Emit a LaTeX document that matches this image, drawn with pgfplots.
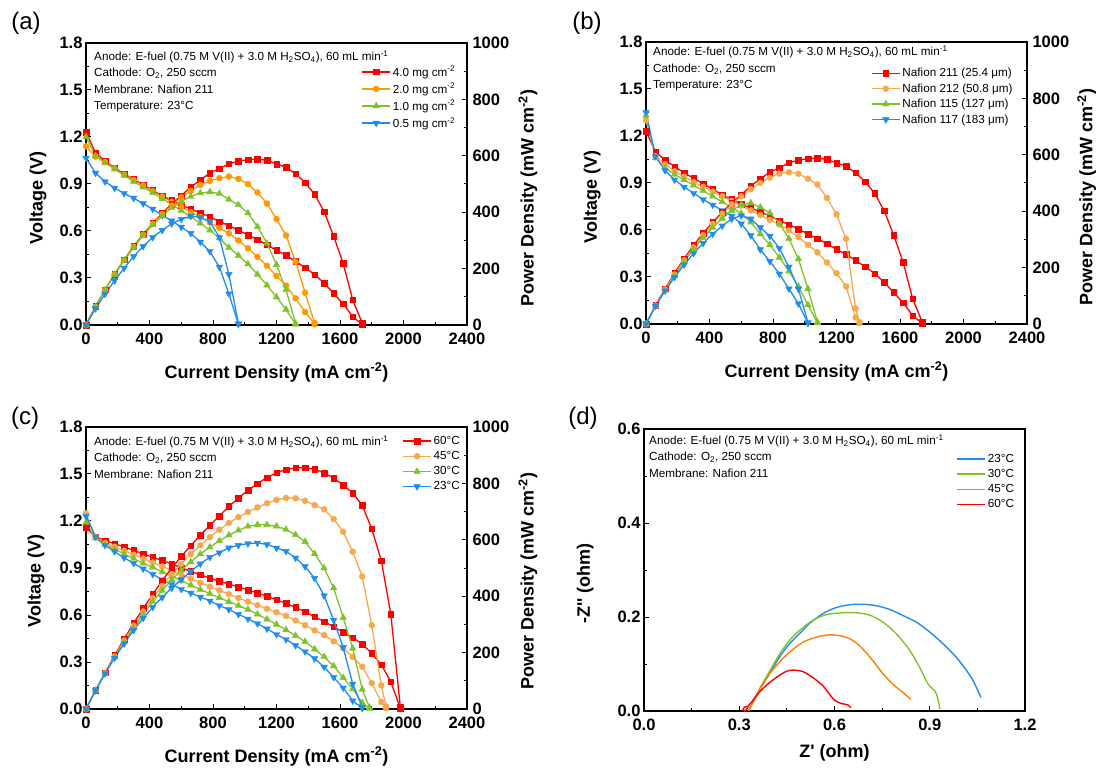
\documentclass[border=0pt]{standalone}
\usepackage{fontspec}
\setmainfont{Liberation Sans}
\newfontfamily\plainfont{Liberation Sans}
\usepackage{pgfplots}
\usepackage{pgfplotstable}
\pgfplotsset{compat=1.18}

\definecolor{cred}{RGB}{255,0,0}
\definecolor{corgA}{RGB}{255,153,0}
\definecolor{corgB}{RGB}{248,168,76}
\definecolor{cgrn}{RGB}{126,196,40}
\definecolor{cblu}{RGB}{30,140,240}
\definecolor{corgD}{RGB}{255,128,0}

\newcommand{\anode}{Anode: E-fuel (0.75 M V(II) + 3.0 M H\textsubscript{2}SO\textsubscript{4}), 60 mL min\textsuperscript{-1}}
\newcommand{\cathode}{Cathode: O\textsubscript{2}, 250 sccm}

% 23 C, Nafion 211, 4.0 mg cm-2 (same run in a, b and c)
\pgfplotstableread{
I V P
0 1.23 0
60 1.10 66.0
120 1.045 125.4
180 1.005 180.9
240 0.965 231.6
300 0.93 279.0
360 0.895 322.2
420 0.86 361.2
480 0.825 396.0
540 0.795 429.3
600 0.765 459.0
660 0.74 488.4
720 0.715 514.8
780 0.69 538.2
840 0.66 554.4
900 0.635 571.5
960 0.605 580.8
1020 0.575 586.5
1080 0.545 588.6
1140 0.512 583.7
1200 0.476 571.2
1260 0.444 559.4
1320 0.406 535.9
1380 0.366 505.1
1440 0.322 463.7
1500 0.268 402.0
1560 0.202 315.1
1620 0.135 218.7
1680 0.053 89.0
1740 0.004 7.0
}\base

\pgfplotstableread{
I V P
0 1.14 0
60 1.075 64.5
120 1.04 124.8
180 1.0 180.0
240 0.96 230.4
300 0.925 277.5
360 0.89 320.4
420 0.855 359.1
480 0.82 393.6
540 0.785 423.9
600 0.755 453.0
660 0.72 475.2
720 0.69 496.8
780 0.655 510.9
840 0.62 520.8
900 0.585 526.5
960 0.54 518.4
1020 0.49 499.8
1080 0.435 469.8
1140 0.378 430.9
1200 0.313 375.6
1260 0.252 317.5
1320 0.17 224.4
1380 0.083 114.5
1440 0.005 7.2
}\aOrg

\pgfplotstableread{
I V P
0 1.20 0
60 1.08 64.8
120 1.035 124.2
180 0.995 179.1
240 0.955 229.2
300 0.915 274.5
360 0.88 316.8
420 0.845 354.9
480 0.805 386.4
540 0.77 415.8
600 0.73 438.0
660 0.69 455.4
720 0.65 468.0
780 0.605 471.9
840 0.555 466.2
900 0.495 445.5
960 0.444 426.2
1020 0.389 396.8
1080 0.323 348.8
1140 0.254 289.6
1200 0.178 213.6
1260 0.099 124.7
1320 0.004 5.3
}\aGrn

\pgfplotstableread{
I V P
0 1.065 0
60 0.97 58.2
120 0.915 109.8
180 0.875 157.5
240 0.84 201.6
300 0.81 243.0
360 0.775 279.0
420 0.74 310.8
480 0.70 336.0
540 0.665 359.1
600 0.625 375.0
660 0.585 386.1
720 0.53 381.6
780 0.47 366.6
840 0.37 310.8
900 0.20 180.0
960 0.005 4.8
}\aBlu

\pgfplotstableread{
I V P
0 1.30 0
60 1.07 64.2
120 1.02 122.4
180 0.975 175.5
240 0.94 225.6
300 0.905 271.5
360 0.875 315.0
420 0.845 354.9
480 0.815 391.2
540 0.785 423.9
600 0.755 453.0
660 0.725 478.5
720 0.695 500.4
780 0.665 518.7
840 0.635 533.4
900 0.598 538.2
960 0.555 532.8
1020 0.505 515.1
1080 0.458 494.6
1140 0.392 446.9
1200 0.324 388.8
1260 0.24 302.4
1320 0.042 55.4
1345 0.005 6.7
}\bOrg

\pgfplotstableread{
I V P
0 1.33 0
60 1.06 63.6
120 0.995 119.4
180 0.955 171.9
240 0.92 220.8
300 0.885 265.5
360 0.85 306.0
420 0.815 342.3
480 0.78 374.4
540 0.745 402.3
600 0.705 423.0
660 0.65 429.0
720 0.575 414.0
780 0.505 393.9
840 0.425 357.0
900 0.337 303.3
960 0.24 230.4
1020 0.122 124.4
1080 0.006 6.5
}\bGrn

\pgfplotstableread{
I V P
0 1.35 0
60 1.07 64.2
120 0.98 117.6
180 0.92 165.6
240 0.875 210.0
300 0.835 250.5
360 0.795 286.2
420 0.76 319.2
480 0.725 348.0
540 0.69 372.6
600 0.64 384.0
660 0.565 372.9
720 0.475 342.0
780 0.40 312.0
840 0.32 268.8
900 0.225 202.5
960 0.13 124.8
1020 0.005 5.1
}\bBlu

\pgfplotstableread{
I V P
0 1.16 0
60 1.10 66.0
120 1.075 129.0
180 1.055 189.9
240 1.035 248.4
300 1.013 303.9
360 0.99 356.4
420 0.968 406.6
480 0.948 455.0
540 0.926 500.0
600 0.902 541.2
660 0.878 579.5
720 0.856 616.3
780 0.835 651.3
840 0.815 684.6
900 0.798 718.2
960 0.779 747.8
1020 0.76 775.2
1080 0.74 799.2
1140 0.72 820.8
1200 0.698 837.6
1260 0.674 849.2
1320 0.648 855.4
1380 0.62 855.6
1440 0.59 849.6
1500 0.558 837.0
1560 0.525 819.0
1620 0.49 793.8
1680 0.456 766.1
1740 0.415 722.1
1800 0.355 639.0
1860 0.283 526.4
1920 0.175 336.0
1980 0.004 7.9
}\cRed

\pgfplotstableread{
I V P
0 1.25 0
60 1.10 66.0
120 1.06 127.2
180 1.035 186.3
240 1.01 242.4
300 0.985 295.5
360 0.96 345.6
420 0.935 392.7
480 0.91 436.8
540 0.885 477.9
600 0.858 514.8
660 0.832 549.1
720 0.806 580.3
780 0.781 609.2
840 0.757 635.9
900 0.733 659.7
960 0.709 680.6
1020 0.685 698.7
1080 0.662 715.0
1140 0.64 729.6
1200 0.618 741.6
1260 0.594 748.4
1320 0.566 747.1
1380 0.535 738.3
1440 0.502 722.9
1500 0.472 708.0
1560 0.432 673.9
1620 0.388 628.6
1680 0.332 557.8
1740 0.27 469.8
1800 0.165 297.0
1860 0.045 83.7
1890 0.005 9.5
}\cOrg

\pgfplotstableread{
I V P
0 1.19 0
60 1.09 65.4
120 1.05 126.0
180 1.02 183.6
240 0.99 237.6
300 0.96 288.0
360 0.93 334.8
420 0.905 380.1
480 0.875 420.0
540 0.848 457.9
600 0.82 492.0
660 0.79 521.4
720 0.763 549.4
780 0.736 574.1
840 0.71 596.4
900 0.685 616.5
960 0.66 633.6
1020 0.635 647.7
1080 0.605 653.4
1140 0.573 653.2
1200 0.54 648.0
1260 0.505 636.3
1320 0.468 617.8
1380 0.43 593.4
1440 0.382 550.1
1500 0.333 499.5
1560 0.275 429.0
1620 0.2 324.0
1680 0.128 215.0
1740 0.04 69.6
1785 0.003 5.4
}\cGrn

% impedance, panel d
\pgfplotstableread{
x y
0.332 0.004
0.363 0.043
0.395 0.079
0.426 0.114
0.458 0.143
0.489 0.164
0.521 0.186
0.563 0.207
0.605 0.220
0.647 0.226
0.689 0.227
0.732 0.224
0.774 0.216
0.816 0.203
0.858 0.189
0.900 0.168
0.942 0.143
0.984 0.114
1.016 0.086
1.037 0.064
1.061 0.029
}\dBlu
\pgfplotstableread{
x y
0.330 0.001
0.363 0.046
0.395 0.084
0.426 0.120
0.458 0.150
0.489 0.171
0.532 0.193
0.574 0.205
0.626 0.209
0.668 0.209
0.711 0.204
0.753 0.189
0.795 0.164
0.837 0.129
0.868 0.093
0.895 0.057
0.916 0.043
0.926 0.025
0.932 0.004
}\dGrn
\pgfplotstableread{
x y
0.330 0.000
0.353 0.032
0.384 0.068
0.416 0.096
0.458 0.125
0.500 0.146
0.542 0.157
0.584 0.162
0.626 0.159
0.658 0.150
0.689 0.132
0.721 0.107
0.753 0.079
0.784 0.057
0.816 0.039
0.840 0.025
}\dOrg
\pgfplotstableread{
x y
0.325 0.010
0.316 0.008
0.312 0.003
0.316 0.000
0.323 0.003
0.330 0.012
0.340 0.020
0.353 0.032
0.384 0.054
0.416 0.071
0.447 0.084
0.468 0.087
0.500 0.084
0.532 0.071
0.563 0.054
0.584 0.036
0.600 0.023
0.621 0.016
0.642 0.013
0.651 0.007
}\dRed

\pgfplotsset{
  base/.style={scale only axis, width=381pt, height=282pt, anchor=south west,
    tick align=inside, major tick length=5pt, minor tick length=3pt,
    axis line style={line width=1.6pt},
    every tick/.append style={line width=1pt, black},
    tick label style={font=\bfseries\fontsize{16.5}{16.5}\selectfont, inner sep=1pt},
    xticklabel style={yshift=-6.3pt},
    yticklabel style={xshift=-2.3pt},
    label style={font=\bfseries\fontsize{18}{20}\selectfont},
    /pgf/number format/assume math mode=true,
    every axis plot/.append style={line width=1.3pt},
    legend image code/.code={\draw[mark repeat=2,mark phase=2,##1] plot coordinates {(0pt,0pt) (14pt,0pt) (28pt,0pt)};},
    legend cell align=left,
    legend style={draw=none, fill=none, anchor=north east, font=\fontsize{11.7}{12.5}\selectfont, row sep=1.5pt, inner sep=0pt},
  },
  vaxis/.style={base, xmin=0, xmax=2400, ymin=0, ymax=1.8,
    xtick={0,400,...,2400}, ytick={0,0.3,0.6,0.9,1.2,1.5,1.8},
    minor x tick num=1, minor y tick num=1,
    xtick pos=bottom, ytick pos=left,
    xticklabel style={/pgf/number format/1000 sep={}},
    yticklabel style={/pgf/number format/.cd, fixed, fixed zerofill, precision=1},
    xlabel={Current Density (mA cm\textsuperscript{-2})}, ylabel={Voltage (V)},
    xlabel style={at={(axis description cs:0.5,-0.168)}, anchor=center},
  },
  paxis/.style={base, xmin=0, xmax=2400, ymin=0, ymax=1000,
    axis x line=none, axis y line*=right, tick align=inside,
    ytick={0,200,...,1000}, minor y tick num=1,
    yticklabel style={/pgf/number format/1000 sep={}, xshift=6.6pt},
    ylabel={Power Density (mW cm\textsuperscript{-2})},
  },
  sred/.style={color=cred, mark=square*, mark size=2.8pt, mark options={solid, line width=0.4pt}},
  sorgA/.style={color=corgA, mark=*, mark size=3pt, mark options={solid, line width=0.4pt}},
  sorgB/.style={color=corgB, mark=*, mark size=3pt, mark options={solid, line width=0.4pt}},
  sgrn/.style={color=cgrn, mark=triangle*, mark size=3.8pt, mark options={solid, line width=0.4pt}},
  sblu/.style={color=cblu, mark=triangle*, mark size=3.8pt, mark options={solid, line width=0.4pt, rotate=180}},
}

\begin{document}
\begin{tikzpicture}
\useasboundingbox (0,0) rectangle (1098pt,769pt);

% (a)
\begin{axis}[vaxis, at={(86pt,444pt)},
  ylabel style={at={(axis description cs:-0.126,0.45)}, anchor=center},
  legend style={at={(0.975,0.926)}}]
\addplot[sred] table[x=I,y=V]{\base};
\addplot[sorgA] table[x=I,y=V]{\aOrg};
\addplot[sgrn] table[x=I,y=V]{\aGrn};
\addplot[sblu] table[x=I,y=V]{\aBlu};
\legend{4.0 mg cm\textsuperscript{-2}, 2.0 mg cm\textsuperscript{-2}, 1.0 mg cm\textsuperscript{-2}, 0.5 mg cm\textsuperscript{-2}}
\end{axis}
\begin{axis}[paxis, at={(86pt,444pt)},
  ylabel style={at={(axis description cs:1.16,0.45)}, anchor=center}]
\addplot[sred] table[x=I,y=P]{\base};
\addplot[sorgA] table[x=I,y=P]{\aOrg};
\addplot[sgrn] table[x=I,y=P]{\aGrn};
\addplot[sblu] table[x=I,y=P]{\aBlu};
\end{axis}

% (b)
\begin{axis}[vaxis, at={(646pt,445pt)},
  ylabel style={at={(axis description cs:-0.141,0.45)}, anchor=center},
  legend style={at={(0.968,0.915)}}]
\addplot[sred] table[x=I,y=V]{\base};
\addplot[sorgB] table[x=I,y=V]{\bOrg};
\addplot[sgrn] table[x=I,y=V]{\bGrn};
\addplot[sblu] table[x=I,y=V]{\bBlu};
\legend{Nafion 211 (25.4 μm), Nafion 212 (50.8 μm), Nafion 115 (127 μm), Nafion 117 (183 μm)}
\end{axis}
\begin{axis}[paxis, at={(646pt,445pt)},
  ylabel style={at={(axis description cs:1.157,0.45)}, anchor=center}]
\addplot[sred] table[x=I,y=P]{\base};
\addplot[sorgB] table[x=I,y=P]{\bOrg};
\addplot[sgrn] table[x=I,y=P]{\bGrn};
\addplot[sblu] table[x=I,y=P]{\bBlu};
\end{axis}

% (c)
\begin{axis}[vaxis, at={(86pt,60pt)},
  ylabel style={at={(axis description cs:-0.131,0.454)}, anchor=center},
  legend style={at={(0.987,0.975)}}]
\addplot[sred] table[x=I,y=V]{\cRed};
\addplot[sorgB] table[x=I,y=V]{\cOrg};
\addplot[sgrn] table[x=I,y=V]{\cGrn};
\addplot[sblu] table[x=I,y=V]{\base};
\legend{60°C, 45°C, 30°C, 23°C}
\end{axis}
\begin{axis}[paxis, at={(86pt,60pt)},
  ylabel style={at={(axis description cs:1.16,0.454)}, anchor=center}]
\addplot[sred] table[x=I,y=P]{\cRed};
\addplot[sorgB] table[x=I,y=P]{\cOrg};
\addplot[sgrn] table[x=I,y=P]{\cGrn};
\addplot[sblu] table[x=I,y=P]{\base};
\end{axis}

% (d)
\begin{axis}[base, at={(644pt,58pt)},
  xmin=0, xmax=1.2, ymin=0, ymax=0.6,
  xtick={0,0.3,0.6,0.9,1.2}, ytick={0,0.2,0.4,0.6},
  minor x tick num=1, minor y tick num=1,
  xtick pos=bottom, ytick pos=left,
  xticklabel style={/pgf/number format/.cd, fixed, fixed zerofill, precision=1},
  yticklabel style={/pgf/number format/.cd, fixed, fixed zerofill, precision=1},
  xlabel={\plainfont\bfseries Z' (ohm)}, ylabel={\plainfont\bfseries -Z'' (ohm)},
  xlabel style={at={(axis description cs:0.5,-0.148)}, anchor=center},
  ylabel style={at={(axis description cs:-0.154,0.452)}, anchor=center},
  legend style={at={(0.977,0.919)}},
  every axis plot/.append style={line width=1.4pt}]
\addplot[cblu, smooth] table[x=x,y=y]{\dBlu};
\addplot[cgrn, smooth] table[x=x,y=y]{\dGrn};
\addplot[corgD, smooth] table[x=x,y=y]{\dOrg};
\addplot[cred, smooth] table[x=x,y=y]{\dRed};
\legend{23°C, 30°C, 45°C, 60°C}
\end{axis}

% annotations and panel letters
\begin{scope}[every node/.style={anchor=west, inner sep=0pt, font=\fontsize{11.7}{12.5}\selectfont}]
\node at (94pt,712pt) {\anode};
\node at (94pt,696pt) {\cathode};
\node at (94pt,680pt) {Membrane: Nafion 211};
\node at (94pt,662pt) {Temperature: 23°C};
\node at (653pt,717pt) {\anode};
\node at (653pt,700pt) {\cathode};
\node at (653pt,683pt) {Temperature: 23°C};
\node at (94pt,327pt) {\anode};
\node at (94pt,311pt) {\cathode};
\node at (94pt,295pt) {Membrane: Nafion 211};
\node at (649pt,328pt) {\anode};
\node at (649pt,312pt) {\cathode};
\node at (649pt,296pt) {Membrane: Nafion 211};
\end{scope}
\begin{scope}[every node/.style={font=\fontsize{24}{26}\selectfont}]
\node at (26pt,746pt) {(a)};
\node at (587pt,746pt) {(b)};
\node at (25pt,351pt) {(c)};
\node at (583pt,351pt) {(d)};
\end{scope}
\end{tikzpicture}
\end{document}
